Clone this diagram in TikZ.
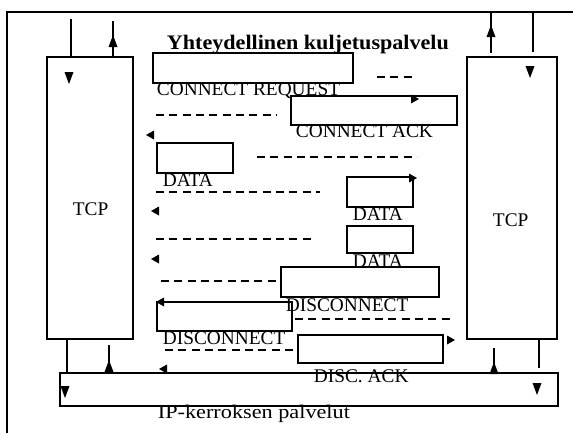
\documentclass[tikz,border=0pt]{standalone}
\usepackage{fontspec}
\setmainfont{Liberation Serif}
\usetikzlibrary{fit}
\tikzset{
  box/.style={draw,inner sep=0pt},
  lbl/.style={anchor=base west,inner sep=0pt},
  dashline/.style={line width=1.2pt,dash pattern=on 6pt off 4pt},
  tridown/.pic={\fill (-4.5,-6) -- (4.5,-6) -- (0,6) -- cycle;},
  triup/.pic={\fill (-4.5,6) -- (4.5,6) -- (0,-6) -- cycle;},
  trileft/.pic={\fill (4,-4.5) -- (4,4.5) -- (-4,0) -- cycle;},
  triright/.pic={\fill (-4,-4.5) -- (-4,4.5) -- (4,0) -- cycle;},
}
\begin{document}
\begin{tikzpicture}[x=0.75pt,y=-0.75pt,line width=1.4pt,font=\fontsize{14.5}{17}\selectfont]
	\useasboundingbox (0,0) rectangle (573,433);
	\draw (7,433) -- (7,12) -- (573,12);
	\node[lbl,font=\fontsize{15.5}{18}\selectfont\bfseries] (title) at (166,49) {\scalebox{1.07}[1]{Yhteydellinen kuljetuspalvelu}};
	% kerrokset
	\node[box,fit={(47,57) (133,339)}] (tcpL) {};
	\node[box,fit={(467,57) (557,339)}] (tcpR) {};
	\node[box,fit={(60,373) (558,406)}] (ip) {};
	\node[lbl] (tcpLtxt) at (72,215) {TCP};
	\node[lbl] (tcpRtxt) at (492,226) {TCP};
	\node[lbl] (iptxt) at (157,418) {\scalebox{1.15}[1]{IP-kerroksen palvelut}};
	\coordinate (topL1) at (71,19);
	\coordinate (topL2) at (113,21);
	\coordinate (topR1) at (491,12);
	\coordinate (topR2) at (533,12);
	\coordinate (botL2) at (109,345);
	\coordinate (botR1) at (494,348);
	\coordinate (botR2) at (539,368);
	\draw (tcpL.north -| topL1) -- (topL1);
	\draw (tcpL.north -| topL2) -- (topL2);
	\draw (topR1) -- ++(0,41);
	\draw (topR2) -- ++(0,40);
	\draw (tcpL.south -| 67,0) -- (ip.north -| 67,0);
	\draw (ip.north -| botL2) -- (botL2);
	\draw (ip.north -| botR1) -- (botR1);
	\draw (tcpR.south -| botR2) -- (botR2);
	\pic at (69,78) {tridown};
	\pic at (113,41) {triup};
	\pic at (491,31) {triup};
	\pic at (530,72) {tridown};
	\pic at (109,366) {triup};
	\pic at (65,392) {tridown};
	\pic at (494,368) {triup};
	\pic at (537,389) {tridown};
	% viestit
	\node[box,fit={(153,53) (353,83)}] (req) {};
	\node[lbl] (reqtxt) at (156,95) {CONNECT REQUEST};
	\node[box,fit={(291,96) (457,125)}] (ack) {};
	\node[lbl] (acktxt) at (295,137) {CONNECT ACK};
	\node[box,fit={(157,143) (233,173)}] (dataA) {};
	\node[lbl] (dataAtxt) at (162,186) {DATA};
	\node[box,fit={(347,177) (413,207)}] (dataB) {};
	\node[lbl] (dataBtxt) at (352,220) {DATA};
	\node[box,fit={(347,226) (413,253)}] (dataC) {};
	\node[lbl] (dataCtxt) at (352,267) {DATA};
	\node[box,fit={(281,267) (439,297)}] (discA) {};
	\node[lbl] (discAtxt) at (285,311) {DISCONNECT};
	\node[box,fit={(157,302) (292,331)}] (discB) {};
	\node[lbl] (discBtxt) at (162,344) {DISCONNECT};
	\node[box,fit={(298,335) (443,363)}] (dack) {};
	\node[lbl] (dacktxt) at (313,382) {DISC. ACK};
	\pic at (415,99) {triright};
	\pic at (413,178) {triright};
	\pic at (160,302) {trileft};
	\pic at (451,340) {triright};
	\pic at (150,135) {trileft};
	\pic at (155,211) {trileft};
	\pic at (155,259) {trileft};
	\pic at (163,369) {trileft};
	\draw[dashline] (377,77) -- (413,77);
	\draw[dashline] (156,115) -- (277,115);
	\draw[dashline] (257,157) -- (417,157);
	\draw[dashline] (156,192) -- (320,192);
	\draw[dashline] (156,239) -- (315,239);
	\draw[dashline] (161,281) -- (discA.west |- 0,281);
	\draw[dashline] (295,319) -- (453,319);
	\draw[dashline] (165,350) -- (dack.west |- 0,350);
\end{tikzpicture}
\end{document}
